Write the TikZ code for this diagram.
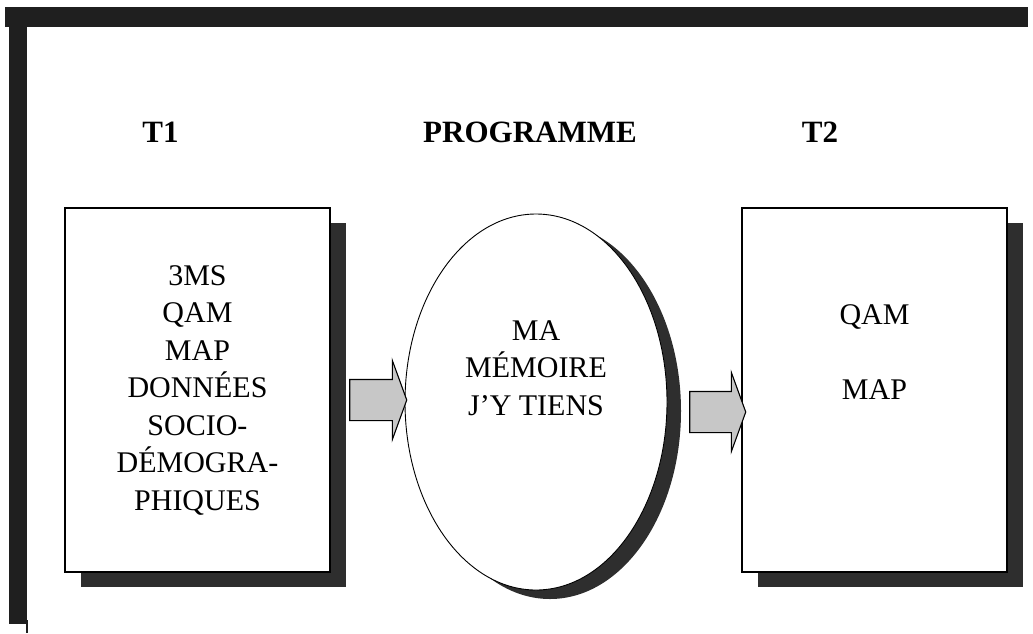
\documentclass[tikz,border=0pt]{standalone}
\usepackage{fontspec}
\setmainfont{Liberation Serif}
\usetikzlibrary{shapes.geometric,shapes.arrows,shadows,calc}
\definecolor{shadowc}{gray}{0.18}
\definecolor{bandc}{gray}{0.12}
\definecolor{arrowc}{gray}{0.78}
\tikzset{
  bodyfont/.style={font=\fontsize{30}{37.5}\selectfont},
  titlefont/.style={font=\fontsize{31}{37}\selectfont\bfseries},
  stagebox/.style={draw=black, line width=1.1pt, fill=white, rectangle,
    minimum width=265pt, minimum height=364pt, inner sep=0pt, align=center, bodyfont,
    drop shadow={shadow xshift=16pt, shadow yshift=-15pt, fill=shadowc, opacity=1}},
  progellipse/.style={draw=black, line width=0.9pt, fill=white, ellipse,
    minimum width=262pt, minimum height=376pt, inner sep=0pt,
    drop shadow={shadow xshift=14pt, shadow yshift=-9pt, fill=shadowc, opacity=1}},
  txt/.style={align=center, inner sep=0pt, bodyfont},
  blockarrow/.style={draw=black, line width=1.1pt, fill=arrowc, single arrow,
    inner xsep=0pt, inner ysep=20pt, single arrow head extend=19pt, single arrow tip angle=140},
  band/.style={fill=bandc, draw=none}
}
\begin{document}
\begin{tikzpicture}[x=1pt,y=-1pt]
\useasboundingbox (0,0) rectangle (1033,633);
% frame bands
\fill[band] (5,7) rectangle (1028,27);
\fill[band] (9,7) rectangle (27,624);
\draw[bandc, line width=1.5pt] (27,620) -- (27,633);
% titles
\node[titlefont, anchor=base, inner sep=0pt] (t1) at (160.5,142) {T1};
\node[titlefont, anchor=base, inner sep=0pt] (tp) at (530,142) {PROGRAMME};
\node[titlefont, anchor=base, inner sep=0pt] (t2) at (820,142) {T2};
% boxes
\node[stagebox] (L) at (197.5,390) {3MS\\QAM\\MAP\\DONNÉES\\SOCIO-\\DÉMOGRA-\\PHIQUES};
\node[stagebox] (R) at (874.5,390) {};
\node[txt] (Rt) at ($(R.center)+(0,-37.5)$) {QAM\\[37.5pt]MAP};
% ellipse
\node[progellipse] (E) at (536,402) {};
\node[txt] (Et) at ($(E.center)+(0,-34)$) {MA\\MÉMOIRE\\J’Y TIENS};
% arrows
\node[blockarrow, minimum height=57pt] (LA) at (374.5,400) {};
\node[blockarrow, minimum height=56pt] (RA) at (714,412) {};
\end{tikzpicture}
\end{document}
